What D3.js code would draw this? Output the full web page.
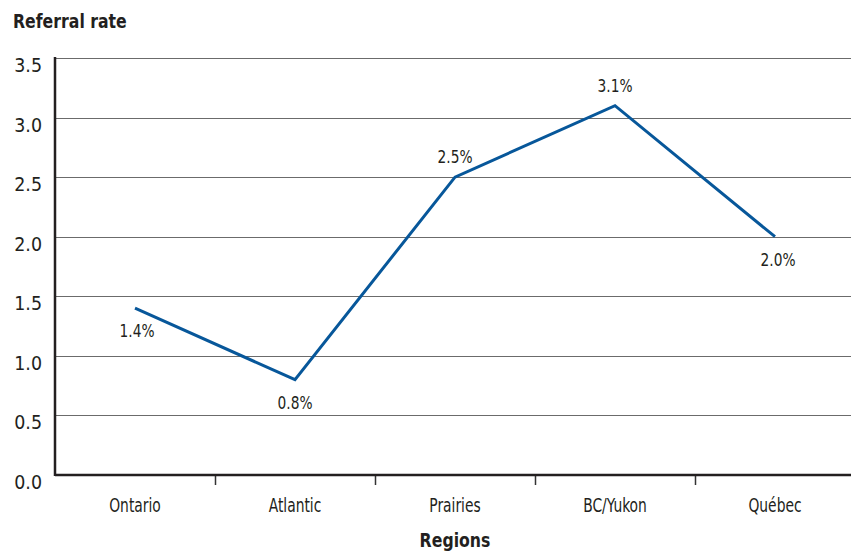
<!DOCTYPE html>
<html>
<head>
<meta charset="utf-8">
<script src="https://cdn.jsdelivr.net/npm/d3@7"></script>
<style>
  html, body { margin: 0; padding: 0; background: #fff; }
  svg { display: block; }
  text { font-family: "Liberation Sans Narrow", "DejaVu Sans Condensed", "Liberation Sans", sans-serif; fill: #231f20; }
</style>
</head>
<body>
<svg id="chart" width="851" height="552"></svg>
<script>
// Referral rate by region (%)
const regions = ["Ontario", "Atlantic", "Prairies", "BC/Yukon", "Québec"];
const rates = [1.4, 0.8, 2.5, 3.1, 2.0];
const rateLabels = ["1.4%", "0.8%", "2.5%", "3.1%", "2.0%"];
const yTicks = [0, 0.5, 1, 1.5, 2, 2.5, 3, 3.5];
// label placement relative to each point: above or below the line
const labelSide = ["below", "below", "above", "above", "below"];

const svg = d3.select("#chart");
const W = 851, H = 552;
const plotLeft = 55, plotRight = 855, plotTop = 58, plotBottom = 475;

const x = d3.scaleBand().domain(regions).range([plotLeft, plotRight]);
const y = d3.scaleLinear().domain([0, 3.5]).range([plotBottom, plotTop]);

// narrow the typeface horizontally around the anchor point
const place = (px, py, sx) => `translate(${px},${py}) scale(${sx},1)`;

// horizontal gridlines
svg.append("g")
  .selectAll("line")
  .data(yTicks.filter(d => d > 0))
  .join("line")
  .attr("x1", plotLeft).attr("x2", W)
  .attr("y1", d => Math.round(y(d)) + 0.5).attr("y2", d => Math.round(y(d)) + 0.5)
  .attr("stroke", "#6b6b6b").attr("stroke-width", 1.2);

// y tick labels (top of text sits on the gridline)
svg.append("g")
  .selectAll("text")
  .data(yTicks)
  .join("text")
  .attr("transform", d => place(42, y(d) + 14, 0.97))
  .attr("text-anchor", "end")
  .attr("font-size", 20)
  .text(d => d3.format(".1f")(d));

// x axis: ticks at category boundaries
svg.append("g")
  .selectAll("line")
  .data(regions.slice(1))
  .join("line")
  .attr("x1", d => Math.round(x(d)) + 0.5).attr("x2", d => Math.round(x(d)) + 0.5)
  .attr("y1", plotBottom).attr("y2", plotBottom + 10)
  .attr("stroke", "#333").attr("stroke-width", 1.5);

svg.append("g")
  .selectAll("text")
  .data(regions)
  .join("text")
  .attr("transform", d => place(x(d) + x.bandwidth() / 2, 512, 0.81))
  .attr("text-anchor", "middle")
  .attr("font-size", 19)
  .text(d => d);

// axis lines
svg.append("line")
  .attr("x1", plotLeft).attr("x2", W).attr("y1", plotBottom).attr("y2", plotBottom)
  .attr("stroke", "#231f20").attr("stroke-width", 2.5);
svg.append("line")
  .attr("x1", plotLeft).attr("x2", plotLeft).attr("y1", plotTop - 1).attr("y2", plotBottom + 1)
  .attr("stroke", "#231f20").attr("stroke-width", 2.5);

// data line
const line = d3.line()
  .x((d, i) => x(regions[i]) + x.bandwidth() / 2)
  .y(d => y(d));
svg.append("path")
  .datum(rates)
  .attr("d", line)
  .attr("fill", "none")
  .attr("stroke", "#07579a")
  .attr("stroke-width", 3)
  .attr("stroke-linejoin", "miter");

// value labels
svg.append("g")
  .selectAll("text")
  .data(rates)
  .join("text")
  .attr("transform", (d, i) => place(
    x(regions[i]) + x.bandwidth() / 2 + (i === 0 ? 2 : i === 4 ? 3 : 0),
    labelSide[i] === "below" ? y(d) + 29 : y(d) - 14,
    0.85))
  .attr("text-anchor", "middle")
  .attr("font-size", 18)
  .text((d, i) => rateLabels[i]);

// titles
svg.append("text")
  .attr("transform", place(13, 28, 0.92))
  .attr("font-size", 19).attr("font-weight", "bold")
  .text("Referral rate");
svg.append("text")
  .attr("transform", place((plotLeft + plotRight) / 2, 547, 0.92))
  .attr("text-anchor", "middle")
  .attr("font-size", 19).attr("font-weight", "bold")
  .text("Regions");
</script>
</body>
</html>
